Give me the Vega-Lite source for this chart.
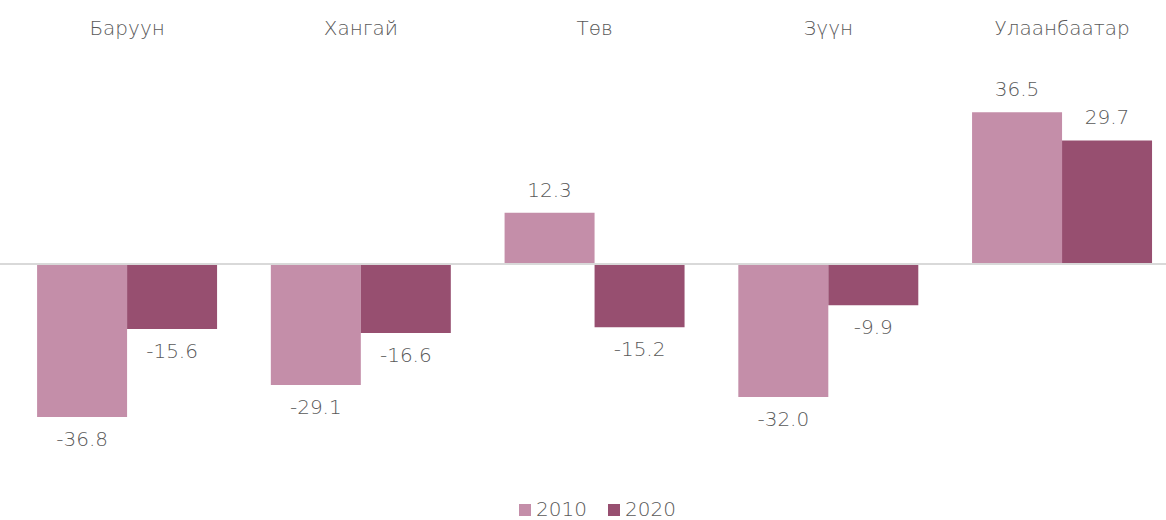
{
  "$schema": "https://vega.github.io/schema/vega-lite/v6.json",
  "width": 1156,
  "height": 416,
  "autosize": {"type": "none"},
  "padding": {"left": 10, "top": 56, "right": 0, "bottom": 48},
  "background": "white",
  "config": {
    "view": {"stroke": null},
    "font": "DejaVu Sans",
    "locale": {"number": {"decimal": ".", "thousands": ",", "grouping": [3], "currency": ["$", ""], "minus": "-"}}
  },
  "data": {
    "values": [
      {"region": "Баруун", "year": "2010", "value": -36.8},
      {"region": "Баруун", "year": "2020", "value": -15.6},
      {"region": "Хангай", "year": "2010", "value": -29.1},
      {"region": "Хангай", "year": "2020", "value": -16.6},
      {"region": "Төв", "year": "2010", "value": 12.3},
      {"region": "Төв", "year": "2020", "value": -15.2},
      {"region": "Зүүн", "year": "2010", "value": -32.0},
      {"region": "Зүүн", "year": "2020", "value": -9.9},
      {"region": "Улаанбаатар", "year": "2010", "value": 36.5},
      {"region": "Улаанбаатар", "year": "2020", "value": 29.7}
    ]
  },
  "encoding": {
    "x": {
      "field": "region",
      "type": "nominal",
      "sort": ["Баруун", "Хангай", "Төв", "Зүүн", "Улаанбаатар"],
      "scale": {"paddingInner": 0.23, "paddingOuter": 0.0878, "align": 0.66},
      "axis": {"orient": "top", "title": null, "domain": false, "ticks": false, "labelAngle": 0, "labelFontSize": 20, "labelColor": "#595959", "labelPadding": 18, "labelFont": "DejaVu Sans", "labelFontWeight": 200}
    },
    "xOffset": {"field": "year", "type": "nominal", "scale": {"paddingInner": 0, "paddingOuter": 0}},
    "y": {
      "field": "value",
      "type": "quantitative",
      "scale": {"domain": [-50, 50], "nice": false, "zero": true},
      "axis": null
    }
  },
  "layer": [
    {
      "mark": {"type": "bar"},
      "encoding": {
        "color": {
          "field": "year",
          "type": "nominal",
          "scale": {"domain": ["2010", "2020"], "range": ["#c48ea9", "#974f70"]},
          "legend": {
            "title": null,
            "orient": "none",
            "direction": "horizontal",
            "legendX": 505,
            "legendY": 444,
            "symbolType": "square",
            "symbolSize": 144,
            "symbolStrokeWidth": 0,
            "labelFontSize": 20,
            "labelFont": "DejaVu Sans",
            "labelColor": "#595959",
            "labelFontWeight": 200,
            "columnPadding": 17,
            "labelOffset": 1
          }
        }
      }
    },
    {
      "mark": {"type": "rule", "color": "#d9d9d9", "strokeWidth": 1.5},
      "encoding": {"y": {"datum": 0, "type": "quantitative"}, "x": {"value": -10}, "x2": {"value": 1156}, "xOffset": null}
    },
    {
      "transform": [{"filter": "datum.value >= 0"}],
      "mark": {"type": "text", "baseline": "middle", "dy": -22, "fontSize": 20, "color": "#595959", "fontWeight": 200},
      "encoding": {"text": {"field": "value", "type": "quantitative", "format": ".1f"}}
    },
    {
      "transform": [{"filter": "datum.value < 0"}],
      "mark": {"type": "text", "baseline": "middle", "dy": 23, "fontSize": 20, "color": "#595959", "fontWeight": 200},
      "encoding": {"text": {"field": "value", "type": "quantitative", "format": ".1f"}}
    }
  ]
}
